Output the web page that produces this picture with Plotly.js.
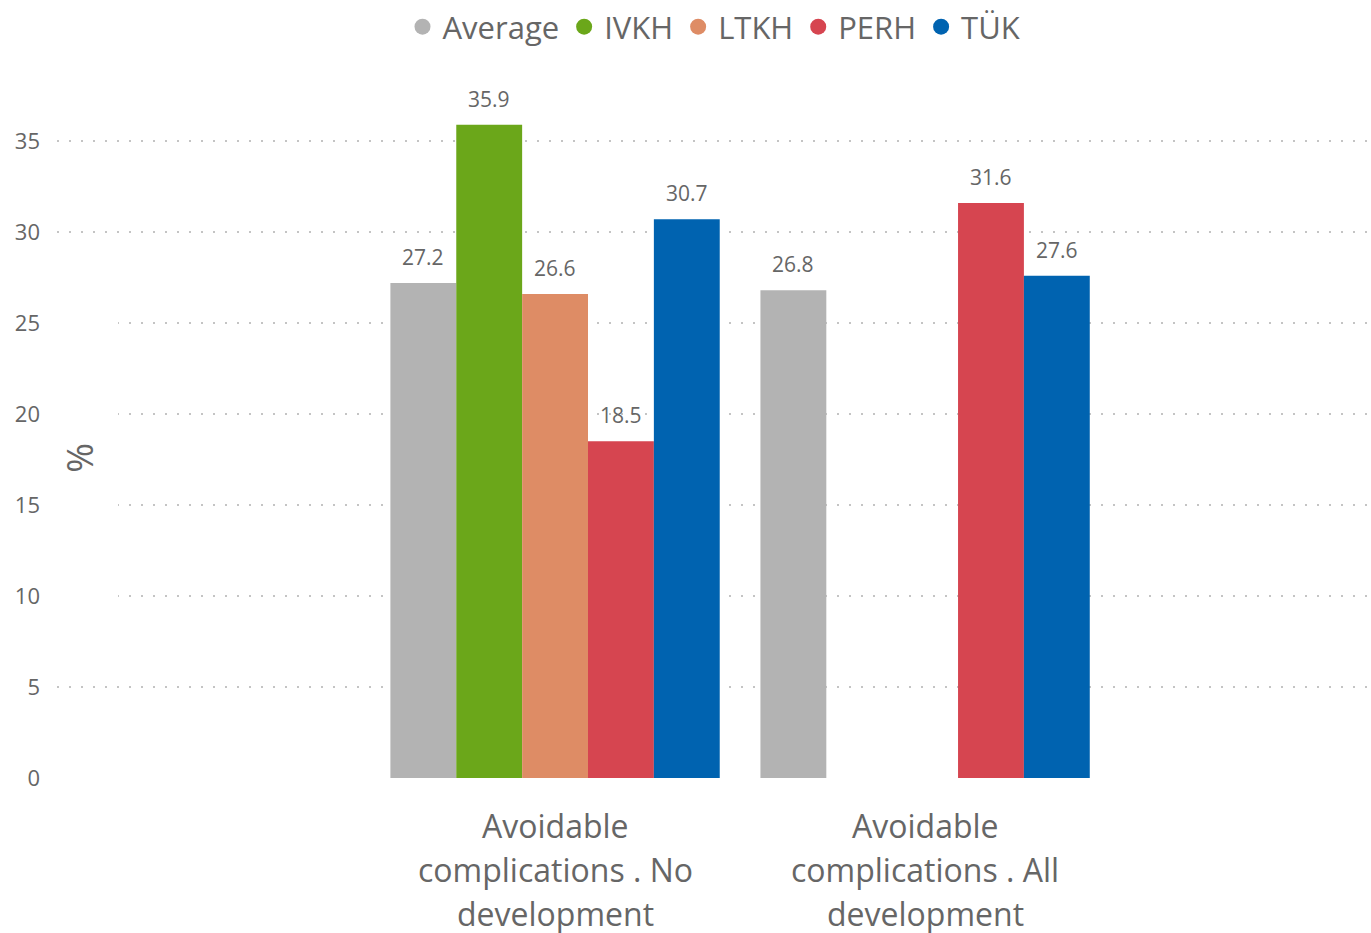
<!DOCTYPE html>
<html>
<head>
<meta charset="utf-8">
<script src="https://cdn.plot.ly/plotly-3.0.1.min.js"></script>
<style>
  html, body { margin: 0; padding: 0; background: #fff; }
  #chart { width: 1371px; height: 933px; }
</style>
</head>
<body>
<div id="chart"></div>
<script>
// Category labels, one entry per line
const categoryLines = [
  ["Avoidable", "complications . No", "development"],
  ["Avoidable", "complications . All", "development"]
];
const categories = categoryLines.map(lines => lines.join(" "));

// Series names and values (% per category; null = no value)
const seriesNames = ["Average", "IVKH", "LTKH", "PERH", "TÜK"];
const averageValues = [27.2, 26.8];
const ivkhValues = [35.9, null];
const ltkhValues = [26.6, null];
const perhValues = [18.5, 31.6];
const tukValues = [30.7, 27.6];

const seriesColors = ["#B3B3B3", "#6BA71A", "#DE8C65", "#D64550", "#0063B0"];
const seriesValues = [averageValues, ivkhValues, ltkhValues, perhValues, tukValues];

const FONT = "'Open Sans', 'Noto Sans', sans-serif";
const TEXT_GREY = "#666666";
const BAR_GAP = 0.11;
const X_RANGE = [-1.346, 2.205];

const traces = [];
const annotations = [];

// Bars
seriesNames.forEach((name, i) => {
  traces.push({
    type: "bar",
    name: name,
    x: categories,
    y: seriesValues[i],
    marker: { color: seriesColors[i] },
    showlegend: false,
    hoverinfo: "x+y+name"
  });
});

// Value labels above each bar, placed at the bar's slot within its group
const slot = (1 - BAR_GAP) / seriesNames.length;
seriesNames.forEach((name, i) => {
  seriesValues[i].forEach((v, c) => {
    if (v === null) return;
    annotations.push({
      text: v.toFixed(1),
      xref: "x", yref: "y",
      x: c - (1 - BAR_GAP) / 2 + slot * (i + 0.5),
      y: v,
      yshift: 26,
      xanchor: "center", yanchor: "middle",
      showarrow: false,
      font: { family: FONT, size: 21, color: TEXT_GREY }
    });
  });
});

// Category labels below the axis
categoryLines.forEach((lines, c) => {
  lines.forEach((line, k) => {
    annotations.push({
      text: line,
      xref: "x", yref: "paper",
      x: c, y: 0,
      yshift: -47 - 44 * k,
      xanchor: "center", yanchor: "middle",
      showarrow: false,
      font: { family: FONT, size: 32, color: TEXT_GREY }
    });
  });
});

// Axis title
annotations.push({
  text: "%",
  xref: "paper", yref: "y",
  x: 0.0175, y: 17.6,
  xanchor: "center", yanchor: "middle",
  textangle: -90,
  showarrow: false,
  font: { family: FONT, size: 36, color: TEXT_GREY }
});

// Round legend markers
seriesNames.forEach((name, i) => {
  traces.push({
    type: "scatter",
    mode: "markers",
    name: name,
    x: [null],
    y: [null],
    marker: { color: seriesColors[i], size: 17, symbol: "circle" },
    showlegend: true,
    hoverinfo: "skip"
  });
});

const layout = {
  width: 1371,
  height: 933,
  paper_bgcolor: "#ffffff",
  plot_bgcolor: "#ffffff",
  margin: { l: 57, r: 0, t: 80, b: 155 },
  font: { family: FONT, color: TEXT_GREY },
  barmode: "group",
  bargap: BAR_GAP,
  bargroupgap: 0,
  showlegend: true,
  legend: {
    orientation: "h",
    x: 0.5, xanchor: "center",
    y: 1.078, yanchor: "middle",
    font: { family: FONT, size: 31, color: TEXT_GREY },
    itemclick: false,
    itemdoubleclick: false,
    traceorder: "normal"
  },
  xaxis: {
    type: "category",
    range: X_RANGE,
    showgrid: false,
    zeroline: false,
    showline: false,
    ticks: "",
    showticklabels: false,
    fixedrange: true
  },
  yaxis: {
    range: [0, 38.3],
    tickvals: [0, 5, 10, 15, 20, 25, 30, 35],
    showgrid: true,
    gridcolor: "#c4c4c4",
    gridwidth: 1.5,
    griddash: "2px,10px",
    zeroline: false,
    showline: false,
    ticks: "",
    tickfont: { family: FONT, size: 22, color: TEXT_GREY },
    ticklabelstandoff: 16,
    fixedrange: true
  },
  shapes: [
    // clear band behind the axis title
    {
      type: "rect", layer: "between",
      xref: "x", yref: "y",
      x0: X_RANGE[0] - 0.01, x1: -1.181, y0: 6.5, y1: 28.5,
      fillcolor: "#ffffff", line: { width: 0 }
    }
  ],
  annotations: annotations
};

Plotly.newPlot("chart", traces, layout, { displayModeBar: false, staticPlot: true });
</script>
</body>
</html>
